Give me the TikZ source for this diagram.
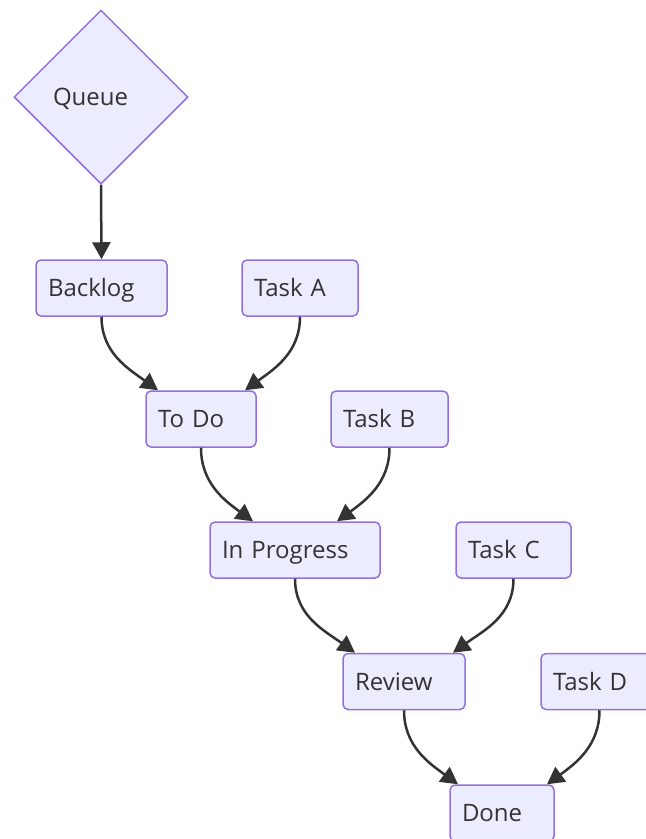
\documentclass[tikz,border=0pt]{standalone}
\usepackage{fontspec}
\setmainfont{Open Sans}
\usetikzlibrary{shapes.geometric,arrows.meta,calc}
\definecolor{nodefill}{HTML}{ECECFF}
\definecolor{nodeborder}{HTML}{9370DB}
\definecolor{ink}{HTML}{333333}
\begin{document}
\begin{tikzpicture}[x=1pt,y=1pt,
  every node/.style={font=\fontsize{24}{28}\selectfont, text=ink},
  box/.style={draw=nodeborder, fill=nodefill, rounded corners=5pt, line width=1.5pt,
    minimum height=56pt, inner xsep=12pt, inner ysep=0pt, align=left,
    text height=17pt, text depth=0pt},
  decision/.style={diamond, draw=nodeborder, fill=nodefill, line width=1.5pt,
    minimum width=174pt, minimum height=174pt, inner sep=0pt, aspect=1, align=left,
    text height=17pt, text depth=0pt},
  link/.style={draw=ink, line width=2.5pt, -{Triangle[length=17pt,width=18pt]}}
]
\useasboundingbox (0,0) rectangle (646,-839);
\clip (0,0) rectangle (646,-839);

\node[decision, text width=96pt] (queue) at (101,-97) {Queue};

\node[box, text width=107pt] (backlog) at (101.5,-288) {Backlog};
\node[box, text width=92pt] (taska) at (300,-288) {Task A};
\node[box, text width=86pt] (todo) at (201,-419) {To Do};
\node[box, text width=93pt] (taskb) at (389.5,-419) {Task B};
\node[box, text width=146pt] (inprog) at (295,-550) {In Progress};
\node[box, text width=91pt] (taskc) at (513.5,-550) {Task C};
\node[box, text width=98pt] (review) at (404,-681.5) {Review};
\node[box, text width=93pt] (taskd) at (599.5,-681.5) {Task D};
\node[box, text width=80pt] (done) at (502,-813) {Done};

\draw[link] (queue.south) -- (backlog.north);

\draw[link] (backlog.south) to[out=-90,in=144] ($(todo.north)+(-43,0)$);
\draw[link] (taska.south) to[out=-90,in=36] ($(todo.north)+(44,0)$);
\draw[link] (todo.south) to[out=-90,in=144] ($(inprog.north)+(-42,0)$);
\draw[link] (taskb.south) to[out=-90,in=36] ($(inprog.north)+(42,0)$);
\draw[link] (inprog.south) to[out=-90,in=144] ($(review.north)+(-49,0)$);
\draw[link] (taskc.south) to[out=-90,in=36] ($(review.north)+(49,0)$);
\draw[link] (review.south) to[out=-90,in=144] ($(done.north)+(-44,0)$);
\draw[link] (taskd.south) to[out=-90,in=36] ($(done.north)+(45,0)$);
\end{tikzpicture}
\end{document}
